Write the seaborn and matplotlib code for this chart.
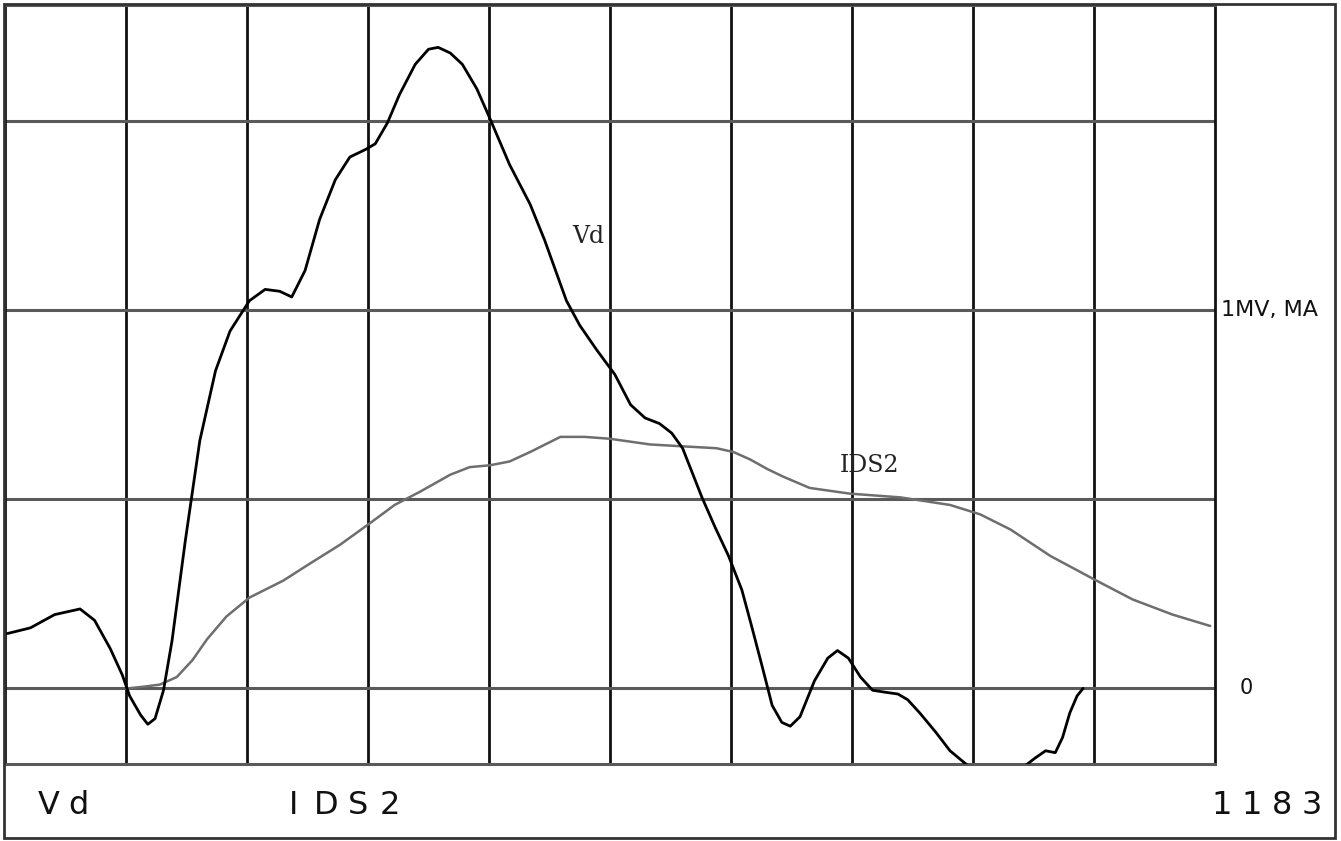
import numpy as np
import pandas as pd
import matplotlib
matplotlib.use("Agg")
import matplotlib.pyplot as plt
import seaborn as sns
from matplotlib.patches import Rectangle

# ---------------------------------------------------------------------------
# data (x in time divisions, y in vertical divisions)
# ---------------------------------------------------------------------------
vd_x = [0.02, 0.21, 0.41, 0.62, 0.74, 0.87, 0.97, 1.03, 1.12, 1.18, 1.24, 1.31,
        1.38, 1.49, 1.61, 1.74, 1.86, 2.02, 2.15, 2.27, 2.37, 2.48, 2.60, 2.73,
        2.85, 2.98, 3.06, 3.16, 3.26, 3.39, 3.50, 3.58, 3.68, 3.78, 3.90, 4.01,
        4.17, 4.34, 4.46, 4.55, 4.64, 4.75, 4.89, 5.04, 5.17, 5.29, 5.41, 5.51,
        5.60, 5.68, 5.76, 5.87, 5.98, 6.09, 6.17, 6.26, 6.34, 6.42, 6.49, 6.57,
        6.69, 6.80, 6.88, 6.97, 7.07, 7.17, 7.27, 7.38, 7.46, 7.56, 7.69, 7.81,
        7.96, 8.10, 8.31, 8.43, 8.51, 8.60, 8.68, 8.74, 8.80, 8.86, 8.91]
vd_y = [0.29, 0.32, 0.39, 0.42, 0.36, 0.21, 0.07, -0.04, -0.14, -0.19, -0.16, -0.01,
        0.25, 0.78, 1.31, 1.68, 1.89, 2.05, 2.11, 2.10, 2.07, 2.21, 2.48, 2.69,
        2.81, 2.85, 2.88, 2.99, 3.14, 3.30, 3.38, 3.39, 3.36, 3.30, 3.17, 3.01,
        2.77, 2.56, 2.37, 2.21, 2.05, 1.92, 1.79, 1.66, 1.50, 1.43, 1.40, 1.35,
        1.27, 1.14, 1.01, 0.85, 0.70, 0.52, 0.33, 0.11, -0.09, -0.18, -0.20, -0.15,
        0.04, 0.16, 0.20, 0.16, 0.06, -0.01, -0.02, -0.03, -0.06, -0.13, -0.23, -0.33,
        -0.41, -0.46, -0.46, -0.41, -0.37, -0.33, -0.34, -0.26, -0.13, -0.04, 0.00]

ids2_x = [1.02, 1.16, 1.28, 1.42, 1.55, 1.67, 1.83, 2.02, 2.30, 2.52, 2.77, 3.03,
          3.22, 3.43, 3.68, 3.84, 4.01, 4.17, 4.34, 4.59, 4.79, 5.00, 5.33, 5.60,
          5.88, 6.02, 6.16, 6.30, 6.43, 6.65, 6.98, 7.40, 7.81, 8.06, 8.31, 8.64,
          9.02, 9.32, 9.65, 9.96]
ids2_y = [0.00, 0.01, 0.02, 0.06, 0.15, 0.26, 0.38, 0.48, 0.57, 0.66, 0.76, 0.88,
          0.97, 1.04, 1.13, 1.17, 1.18, 1.20, 1.25, 1.33, 1.33, 1.32, 1.29, 1.28,
          1.27, 1.25, 1.21, 1.16, 1.12, 1.06, 1.03, 1.01, 0.97, 0.92, 0.84, 0.70,
          0.57, 0.47, 0.39, 0.33]

footer_labels = ["Vd", "IDS2", "1183"]
scale_label = "1MV, MA"
zero_label = "0"

W, H = 1341, 841

sns.set_style("white")
plt.rcParams['font.family'] = ['DejaVu Sans']

fig = plt.figure(figsize=(W / 100, H / 100), dpi=100)
fig.patch.set_facecolor("white")

# plot area in pixel terms: x 5..1215, y 5..764
ax = fig.add_axes([5 / W, (H - 764) / H, 1210 / W, 759 / H])
ax.set_xlim(0, 10)
ax.set_ylim(-0.40, 3.614)

# grid
for gx in range(1, 10):
    ax.axvline(gx, color="#111111", lw=2.0, zorder=1)
for gy in [0, 1, 2, 3]:
    ax.axhline(gy, color="#5a5a5a", lw=2.2, zorder=1)

for side in ["left", "right"]:
    ax.spines[side].set_color("#111111")
    ax.spines[side].set_linewidth(2.0)
for side in ["top", "bottom"]:
    ax.spines[side].set_color("#5a5a5a")
    ax.spines[side].set_linewidth(2.2)
ax.set_xticks([])
ax.set_yticks([])

df_vd = pd.DataFrame({"t": vd_x, "v": vd_y})
df_ids = pd.DataFrame({"t": ids2_x, "v": ids2_y})

sns.lineplot(data=df_ids, x="t", y="v", ax=ax, color="#6e6e6e", lw=1.8,
             sort=False, estimator=None, zorder=3,
             solid_joinstyle="round", solid_capstyle="round")
sns.lineplot(data=df_vd, x="t", y="v", ax=ax, color="black", lw=2.0,
             sort=False, estimator=None, zorder=4,
             solid_joinstyle="round", solid_capstyle="round")
ax.set_xlabel("")
ax.set_ylabel("")

# curve labels (typed, serif)
ax.text(4.69, 2.39, "Vd", fontsize=17, family="DejaVu Serif",
        ha="left", va="center", color="#222222", zorder=5)
ax.text(6.90, 1.18, "IDS2", fontsize=17, family="DejaVu Serif",
        ha="left", va="center", color="#222222", zorder=5)

# scale labels to the right of the plot area
ax.text(10.05, 2.0, scale_label, fontsize=16, ha="left", va="center",
        color="#111111", clip_on=False)
ax.text(10.20, 0.0, zero_label, fontsize=15, ha="left", va="center",
        color="#111111", clip_on=False)

# outer frame
fig.patches.append(Rectangle((4 / W, (H - 838) / H), 1331 / W, 834 / H,
                             transform=fig.transFigure, fill=False,
                             edgecolor="#333333", lw=2.0))

# footer text, plotter style: one glyph at a time with wide pitch
def plotter_text(s, x0, pitch, y=806):
    for i, ch in enumerate(s):
        fig.text((x0 + i * pitch) / W, (H - y) / H, ch, fontsize=23,
                 ha="center", va="center", color="#111111")

plotter_text(footer_labels[0], 49, 29)
plotter_text(footer_labels[1], 294, 32)
plotter_text(footer_labels[2], 1222, 30)

fig.savefig("out.png", dpi=100)
